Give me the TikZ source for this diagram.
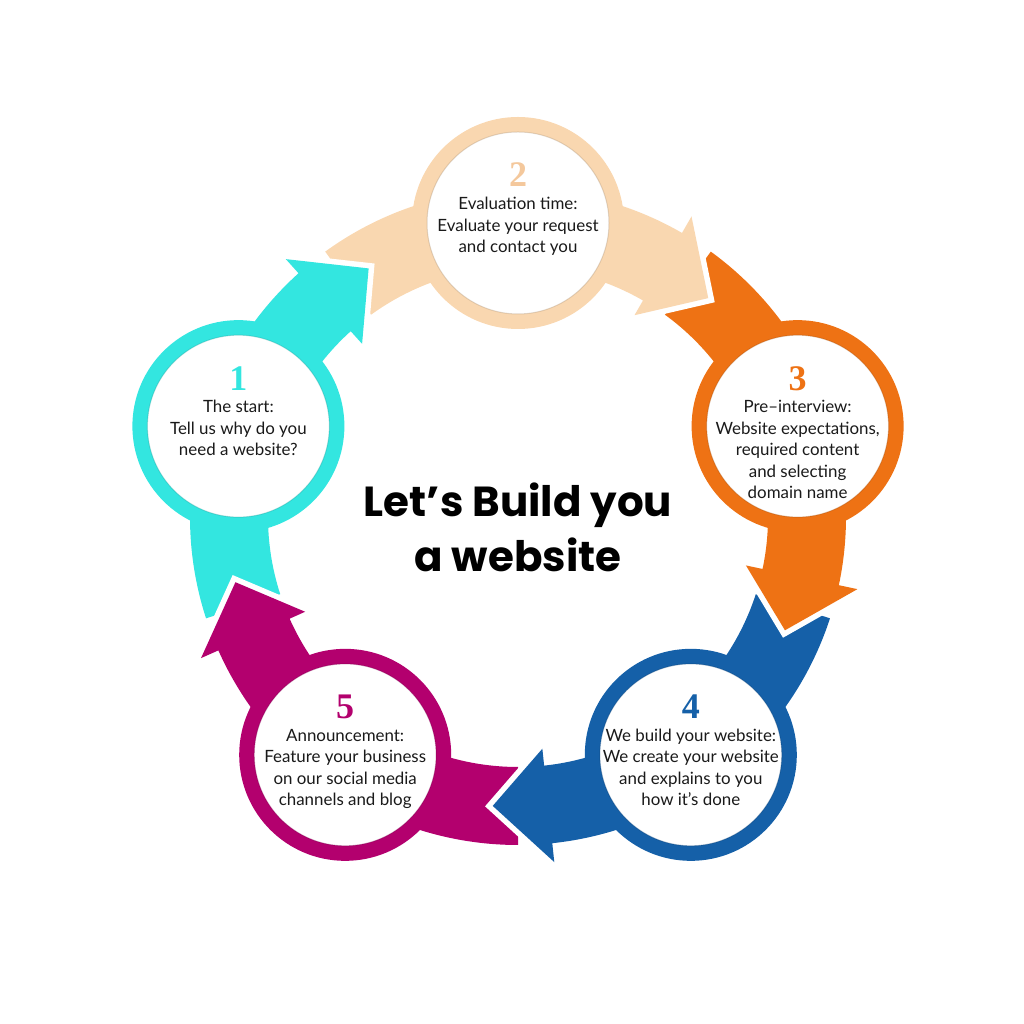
\documentclass[tikz,border=0pt]{standalone}
\usepackage{fontspec}
\setmainfont{Lato}
\newfontfamily\titlefont{Poppins}
\newfontfamily\numfont{Liberation Serif}
\usetikzlibrary{calc}
\definecolor{ink}{HTML}{1A1A1A}
\definecolor{aqua}{HTML}{33E6E0}
\definecolor{peach}{HTML}{F9D7B0}
\definecolor{peachdark}{HTML}{F4C89C}
\definecolor{tang}{HTML}{EE7214}
\definecolor{navy}{HTML}{1560A8}
\definecolor{berry}{HTML}{B3006E}

\begin{document}
\begin{tikzpicture}[
    x=1pt, y=1pt,
    ring/.style={circle, draw=#1, line width=15pt, fill=white, minimum size=197pt, inner sep=0pt},
    headcut/.style={preaction={draw=white, line width=11pt}},
    numtxt/.style={font=\numfont\bfseries\fontsize{36}{36}\selectfont, anchor=base},
    body/.style={font=\fontsize{16.9}{21.5}\selectfont, text=ink, align=center, anchor=north, inner sep=0pt},
    title/.style={font=\titlefont\bfseries\fontsize{42}{55}\selectfont, text=black, align=center, anchor=north, inner sep=0pt}
]

% Canvas 1024 x 1024, y counted from the bottom.
\useasboundingbox (0,0) rectangle (1024,1024);
\coordinate (C) at (518,507);
\def\R{294}
\def\rin{250}
\def\rout{328}

% Arrow tails (they end under their own circle).
\foreach \a/\col in {162/aqua, 90/peach, 18/tang, -54/navy, -126/berry} {
    \fill[\col, shift={(C)}] ({\a+36}:\rin) -- ({\a+36}:\rout)
        arc[start angle=\a+36, end angle=\a, radius=\rout] -- (\a:\rin)
        arc[start angle=\a, end angle=\a+36, radius=\rin] -- cycle;
}

% Arrow heads, cut into the next tail by a white rim.
\foreach \a/\col in {162/aqua, 90/peach, 18/tang, -54/navy, -126/berry} {
    \fill[\col, headcut, shift={(C)}] (\a:\rout)
        arc[start angle=\a, end angle=\a-30, radius=\rout]
        -- ({\a-30}:347) -- ({\a-41}:290) -- ({\a-30}:233) -- ({\a-30}:\rin)
        arc[start angle=\a-30, end angle=\a, radius=\rin] -- cycle;
}

% Step circles.
\foreach \a/\col/\n in {162/aqua/start, 90/peach/eval, 18/tang/interview, -54/navy/build, -126/berry/announce} {
    \node[ring=\col] (\n) at ($(C)+(\a:\R)$) {};
    \draw[\col!70!black, line width=1pt, opacity=0.35] (\n.center) circle[radius=91];
}

% Numbers.
\node[numtxt, text=aqua] (num1) at ($(start.center)+(0,36)$) {1};
\node[numtxt, text=peachdark] (num2) at ($(eval.center)+(0,36)$) {2};
\node[numtxt, text=tang] (num3) at ($(interview.center)+(0,36)$) {3};
\node[numtxt, text=navy] (num4) at ($(build.center)+(0,36)$) {4};
\node[numtxt, text=berry] (num5) at ($(announce.center)+(0,36)$) {5};

% Step texts.
\node[body] (txt1) at ($(start.center)+(0,26)$) {The start:\\Tell us why do you\\need a website?};
\node[body] (txt2) at ($(eval.center)+(0,26)$) {Evaluation time:\\Evaluate your request\\and contact you};
\node[body] (txt3) at ($(interview.center)+(0,26)$) {Pre–interview:\\Website expectations,\\required content\\and selecting\\domain name};
\node[body] (txt4) at ($(build.center)+(0,26)$) {We build your website:\\We create your website\\and explains to you\\how it’s done};
\node[body] (txt5) at ($(announce.center)+(0,26)$) {Announcement:\\Feature your business\\on our social media\\channels and blog};

% Title.
\node[title] (head) at (518,541) {Let’s Build you\\a website};

\end{tikzpicture}
\end{document}
